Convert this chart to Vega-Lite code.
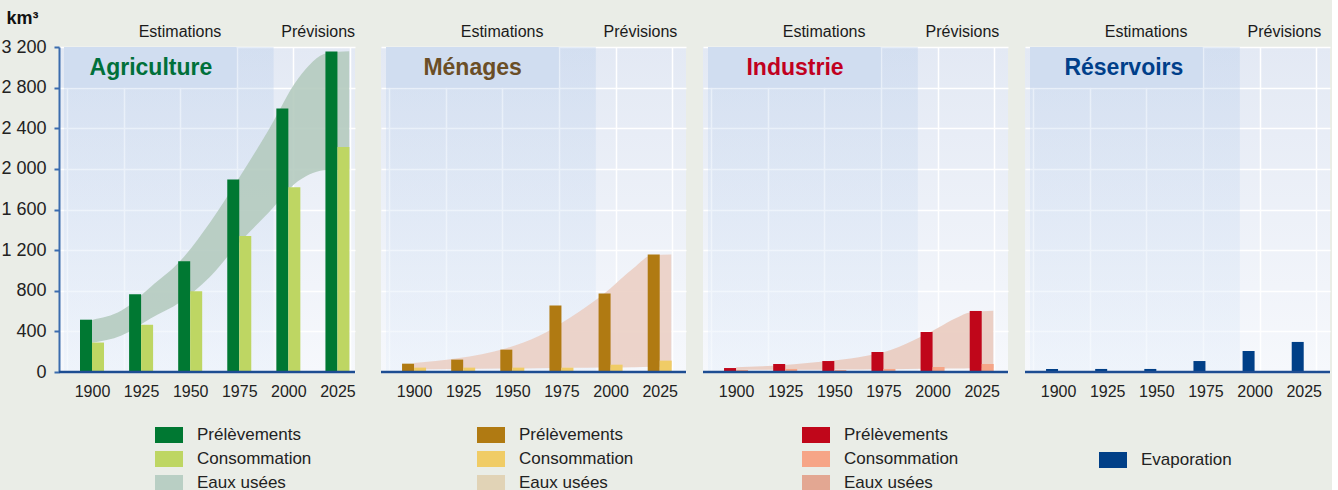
{
"$schema": "https://vega.github.io/schema/vega-lite/v6.json",
"background": "#eaede7",
"padding": {"left": 0, "top": 9, "right": 0, "bottom": 0},
"bounds": "flush",
"spacing": 26,
"resolve": {"scale": {"color": "independent", "x": "independent", "y": "independent"}, "legend": {"color": "independent"}},
"config": {
  "font": "Liberation Sans",
  "axis": {"labelOverlap": false},
  "view": {"stroke": null, "fill": {"gradient": "linear", "x1": 0, "y1": 0, "x2": 0, "y2": 1, "stops": [{"offset": 0, "color": "#e3e9f4"}, {"offset": 1, "color": "#f6f8fc"}]}},
  "legend": {"labelFont": "Liberation Sans", "labelFontSize": 17, "labelColor": "#222222", "symbolStrokeWidth": 0, "symbolOpacity": 1, "padding": 0}
},
"hconcat": [
{
 "width": 296, "height": 325,
 "resolve": {"axis": {"x": "independent", "y": "independent"}},
 "layer": [
  {"data": {"values": [{}]}, "mark": {"type": "rect", "fill": {"gradient": "linear", "x1": 0, "y1": 0, "x2": 0, "y2": 1, "stops": [{"offset": 0, "color": "#b2c9e9"}, {"offset": 1, "color": "#dfebf9"}]}, "fillOpacity": 0.32},
   "encoding": {
    "x": {"datum": 1885.73, "type": "quantitative", "scale": {"domain": [1885.73, 2031.4], "nice": false, "zero": false},
      "axis": {"values": [1887.45, 1900, 1916.24, 1925, 1944.8, 1950, 1973.6, 1975, 2000, 2002.6, 2025, 2031.4], "labelExpr": "datum.value % 25 == 0 ? format(datum.value, 'd') : ''", "grid": true, "gridColor": "#ffffff", "gridWidth": 1.5, "gridOpacity": {"condition": {"test": "datum.value % 25 != 0", "value": 1}, "value": 0}, "ticks": false, "tickSize": 0, "domain": false, "labelFontSize": 16, "labelColor": "#222222", "labelPadding": 11, "labelFont": "Liberation Sans", "labelOverlap": false, "labelBound": false, "labelFlush": false, "title": null}},
    "x2": {"datum": 1992.5},
    "y": {"datum": 3200, "type": "quantitative", "scale": {"domain": [0, 3200], "nice": false},
      "axis": {"values": [0, 400, 800, 1200, 1600, 2000, 2400, 2800, 3200], "labelExpr": "replace(format(datum.value, ','), ',', ' ')", "grid": true, "gridColor": "#ffffff", "gridWidth": 1.5, "domainColor": "#3b6cae", "domainWidth": 2, "tickColor": "#3b6cae", "tickSize": 5, "tickWidth": 2, "labelFontSize": 18, "labelColor": "#222222", "labelPadding": 8, "labelFont": "Liberation Sans", "title": "km³", "titleAngle": 0, "titleAlign": "left", "titleBaseline": "alphabetic", "titleX": -53, "titleY": -24, "titleFontSize": 18, "titleFontWeight": "bold", "titleColor": "#111111", "titleFont": "Liberation Sans"}},
    "y2": {"datum": 0}}},
  {"data": {"values": [{}]}, "mark": {"type": "rect", "fill": "#d0ddf0"},
   "encoding": {"x": {"datum": 1885.73, "type": "quantitative", "axis": null, "scale": {"domain": [1885.73, 2031.4], "nice": false, "zero": false}}, "x2": {"datum": 1973.6},
    "y": {"datum": 3200, "type": "quantitative", "axis": null, "scale": {"domain": [0, 3200], "nice": false}}, "y2": {"datum": 2800}}},
  {"data": {"values": [
    {"year": 1900, "top": 513, "bottom": 289}, {"year": 1915, "top": 605, "bottom": 360}, {"year": 1930, "top": 840, "bottom": 530},
    {"year": 1945, "top": 1095, "bottom": 690}, {"year": 1960, "top": 1470, "bottom": 935}, {"year": 1975, "top": 1915, "bottom": 1272},
    {"year": 1990, "top": 2385, "bottom": 1570}, {"year": 2005, "top": 2890, "bottom": 1880}, {"year": 2020, "top": 3140, "bottom": 1990},
    {"year": 2031, "top": 3157, "bottom": 1988}]},
   "mark": {"type": "area", "interpolate": "monotone", "fill": "#b3cabd", "fillOpacity": 0.88},
   "encoding": {"x": {"field": "year", "type": "quantitative", "axis": null, "scale": {"domain": [1885.73, 2031.4], "nice": false, "zero": false}},
    "y": {"field": "top", "type": "quantitative", "axis": null, "scale": {"domain": [0, 3200], "nice": false}}, "y2": {"field": "bottom"}}},
  {"data": {"values": [
    {"year": 1900, "prel": 515, "cons": 290}, {"year": 1925, "prel": 765, "cons": 465}, {"year": 1950, "prel": 1090, "cons": 795},
    {"year": 1975, "prel": 1895, "cons": 1340}, {"year": 2000, "prel": 2595, "cons": 1820}, {"year": 2025, "prel": 3155, "cons": 2215}]},
   "layer": [
    {"mark": {"type": "bar", "width": 12, "xOffset": -6},
     "encoding": {"x": {"field": "year", "type": "quantitative", "axis": null, "scale": {"domain": [1885.73, 2031.4], "nice": false, "zero": false}},
      "y": {"field": "prel", "type": "quantitative", "axis": null, "scale": {"domain": [0, 3200], "nice": false}},
      "color": {"datum": "Prélèvements", "scale": {"domain": ["Prélèvements", "Consommation", "Eaux usées"], "range": ["#007832", "#bed663", "#b9cfc4"]},
        "legend": {"orient": "none", "legendX": 96, "legendY": 374, "title": null, "direction": "vertical", "symbolType": "M-1,-0.57L1,-0.57L1,0.57L-1,0.57Z", "symbolSize": 784, "labelOffset": 14, "rowPadding": 2}}}},
    {"mark": {"type": "bar", "width": 12, "xOffset": 6},
     "encoding": {"x": {"field": "year", "type": "quantitative", "axis": null, "scale": {"domain": [1885.73, 2031.4], "nice": false, "zero": false}},
      "y": {"field": "cons", "type": "quantitative", "axis": null, "scale": {"domain": [0, 3200], "nice": false}},
      "color": {"datum": "Consommation"}}}
   ]},
  {"data": {"values": [{}]}, "mark": {"type": "rule", "color": "#1d4d92", "strokeWidth": 2.5},
   "encoding": {"y": {"datum": 0, "type": "quantitative", "axis": null, "scale": {"domain": [0, 3200], "nice": false}}}},
  {"data": {"values": [{}]}, "mark": {"type": "text", "text": "Estimations", "fontSize": 16, "color": "#1a1a1a", "baseline": "alphabetic", "dy": -10},
   "encoding": {"x": {"datum": 1944.8, "type": "quantitative", "axis": null, "scale": {"domain": [1885.73, 2031.4], "nice": false, "zero": false}}, "y": {"datum": 3200, "type": "quantitative", "axis": null, "scale": {"domain": [0, 3200], "nice": false}}}},
  {"data": {"values": [{}]}, "mark": {"type": "text", "text": "Prévisions", "fontSize": 16, "color": "#1a1a1a", "baseline": "alphabetic", "dy": -10},
   "encoding": {"x": {"datum": 2015.2, "type": "quantitative", "axis": null, "scale": {"domain": [1885.73, 2031.4], "nice": false, "zero": false}}, "y": {"datum": 3200, "type": "quantitative", "axis": null, "scale": {"domain": [0, 3200], "nice": false}}}},
  {"data": {"values": [{}]}, "mark": {"type": "text", "text": "Agriculture", "fontSize": 23, "fontWeight": "bold", "color": "#00703a", "baseline": "alphabetic", "dy": 28},
   "encoding": {"x": {"datum": 1930, "type": "quantitative", "axis": null, "scale": {"domain": [1885.73, 2031.4], "nice": false, "zero": false}}, "y": {"datum": 3200, "type": "quantitative", "axis": null, "scale": {"domain": [0, 3200], "nice": false}}}}
 ]
},
{
 "spacing": 17,
 "bounds": "flush",
 "resolve": {"scale": {"color": "independent", "x": "independent", "y": "independent"}, "legend": {"color": "independent"}},
 "hconcat": [
 {
  "width": 305, "height": 325,
  "resolve": {"axis": {"x": "independent", "y": "independent"}},
  "layer": [
   {"data": {"values": [{}]}, "mark": {"type": "rect", "fill": {"gradient": "linear", "x1": 0, "y1": 0, "x2": 0, "y2": 1, "stops": [{"offset": 0, "color": "#b2c9e9"}, {"offset": 1, "color": "#dfebf9"}]}, "fillOpacity": 0.32},
    "encoding": {
     "x": {"datum": 1885.73, "type": "quantitative", "scale": {"domain": [1885.73, 2035.83], "nice": false, "zero": false},
       "axis": {"values": [1887.45, 1900, 1916.24, 1925, 1944.8, 1950, 1973.6, 1975, 2000, 2002.6, 2025, 2031.4], "labelExpr": "datum.value % 25 == 0 ? format(datum.value, 'd') : ''", "grid": true, "gridColor": "#ffffff", "gridWidth": 1.5, "gridOpacity": {"condition": {"test": "datum.value % 25 != 0", "value": 1}, "value": 0}, "ticks": false, "tickSize": 0, "domain": false, "labelFontSize": 16, "labelColor": "#222222", "labelPadding": 11, "labelFont": "Liberation Sans", "labelOverlap": false, "labelBound": false, "labelFlush": false, "title": null}},
     "x2": {"datum": 1992.5},
     "y": {"datum": 3200, "type": "quantitative", "scale": {"domain": [0, 3200], "nice": false},
       "axis": {"values": [0, 400, 800, 1200, 1600, 2000, 2400, 2800, 3200], "grid": true, "gridColor": "#ffffff", "gridWidth": 1.5, "labels": false, "ticks": false, "domain": false, "title": null}},
     "y2": {"datum": 0}}},
   {"data": {"values": [{}]}, "mark": {"type": "rect", "fill": "#d0ddf0"},
    "encoding": {"x": {"datum": 1885.73, "type": "quantitative", "axis": null, "scale": {"domain": [1885.73, 2035.83], "nice": false, "zero": false}}, "x2": {"datum": 1973.6},
     "y": {"datum": 3200, "type": "quantitative", "axis": null, "scale": {"domain": [0, 3200], "nice": false}}, "y2": {"datum": 2800}}},
   {"data": {"values": [
     {"year": 1900, "top": 88, "bottom": 25}, {"year": 1922, "top": 135, "bottom": 30}, {"year": 1947, "top": 234, "bottom": 34},
     {"year": 1963.5, "top": 355, "bottom": 37}, {"year": 1979.7, "top": 540, "bottom": 41}, {"year": 1996, "top": 760, "bottom": 44},
     {"year": 2012.7, "top": 1040, "bottom": 48}, {"year": 2020.6, "top": 1146, "bottom": 51}, {"year": 2030.9, "top": 1156, "bottom": 55}]},
    "mark": {"type": "area", "interpolate": "monotone", "fill": "#eacec3", "fillOpacity": 0.88},
    "encoding": {"x": {"field": "year", "type": "quantitative", "axis": null, "scale": {"domain": [1885.73, 2035.83], "nice": false, "zero": false}},
     "y": {"field": "top", "type": "quantitative", "axis": null, "scale": {"domain": [0, 3200], "nice": false}}, "y2": {"field": "bottom"}}},
   {"data": {"values": [
     {"year": 1900, "prel": 82, "cons": 43}, {"year": 1925, "prel": 122, "cons": 43}, {"year": 1950, "prel": 220, "cons": 43},
     {"year": 1975, "prel": 654, "cons": 43}, {"year": 2000, "prel": 772, "cons": 72}, {"year": 2025, "prel": 1157, "cons": 112}]},
    "layer": [
     {"mark": {"type": "bar", "width": 12, "xOffset": -6},
      "encoding": {"x": {"field": "year", "type": "quantitative", "axis": null, "scale": {"domain": [1885.73, 2035.83], "nice": false, "zero": false}},
       "y": {"field": "prel", "type": "quantitative", "axis": null, "scale": {"domain": [0, 3200], "nice": false}},
       "color": {"datum": "Prélèvements", "scale": {"domain": ["Prélèvements", "Consommation", "Eaux usées"], "range": ["#b07a12", "#f0cc66", "#e1d3b6"]},
         "legend": {"orient": "none", "legendX": 96, "legendY": 374, "title": null, "direction": "vertical", "symbolType": "M-1,-0.57L1,-0.57L1,0.57L-1,0.57Z", "symbolSize": 784, "labelOffset": 14, "rowPadding": 2}}}},
     {"mark": {"type": "bar", "width": 12, "xOffset": 6},
      "encoding": {"x": {"field": "year", "type": "quantitative", "axis": null, "scale": {"domain": [1885.73, 2035.83], "nice": false, "zero": false}},
       "y": {"field": "cons", "type": "quantitative", "axis": null, "scale": {"domain": [0, 3200], "nice": false}},
       "color": {"datum": "Consommation"}}}
    ]},
   {"data": {"values": [{}]}, "mark": {"type": "rule", "color": "#1d4d92", "strokeWidth": 2.5},
    "encoding": {"y": {"datum": 0, "type": "quantitative", "axis": null, "scale": {"domain": [0, 3200], "nice": false}}}},
   {"data": {"values": [{}]}, "mark": {"type": "text", "text": "Estimations", "fontSize": 16, "color": "#1a1a1a", "baseline": "alphabetic", "dy": -10},
    "encoding": {"x": {"datum": 1944.8, "type": "quantitative", "axis": null, "scale": {"domain": [1885.73, 2035.83], "nice": false, "zero": false}}, "y": {"datum": 3200, "type": "quantitative", "axis": null, "scale": {"domain": [0, 3200], "nice": false}}}},
   {"data": {"values": [{}]}, "mark": {"type": "text", "text": "Prévisions", "fontSize": 16, "color": "#1a1a1a", "baseline": "alphabetic", "dy": -10},
    "encoding": {"x": {"datum": 2015.2, "type": "quantitative", "axis": null, "scale": {"domain": [1885.73, 2035.83], "nice": false, "zero": false}}, "y": {"datum": 3200, "type": "quantitative", "axis": null, "scale": {"domain": [0, 3200], "nice": false}}}},
   {"data": {"values": [{}]}, "mark": {"type": "text", "text": "Ménages", "fontSize": 23, "fontWeight": "bold", "color": "#6b4e26", "baseline": "alphabetic", "dy": 28},
    "encoding": {"x": {"datum": 1929.8, "type": "quantitative", "axis": null, "scale": {"domain": [1885.73, 2035.83], "nice": false, "zero": false}}, "y": {"datum": 3200, "type": "quantitative", "axis": null, "scale": {"domain": [0, 3200], "nice": false}}}}
  ]
 },
 {
  "width": 305, "height": 325,
  "resolve": {"axis": {"x": "independent", "y": "independent"}},
  "layer": [
   {"data": {"values": [{}]}, "mark": {"type": "rect", "fill": {"gradient": "linear", "x1": 0, "y1": 0, "x2": 0, "y2": 1, "stops": [{"offset": 0, "color": "#b2c9e9"}, {"offset": 1, "color": "#dfebf9"}]}, "fillOpacity": 0.32},
    "encoding": {
     "x": {"datum": 1885.73, "type": "quantitative", "scale": {"domain": [1885.73, 2035.83], "nice": false, "zero": false},
       "axis": {"values": [1887.45, 1900, 1916.24, 1925, 1944.8, 1950, 1973.6, 1975, 2000, 2002.6, 2025, 2031.4], "labelExpr": "datum.value % 25 == 0 ? format(datum.value, 'd') : ''", "grid": true, "gridColor": "#ffffff", "gridWidth": 1.5, "gridOpacity": {"condition": {"test": "datum.value % 25 != 0", "value": 1}, "value": 0}, "ticks": false, "tickSize": 0, "domain": false, "labelFontSize": 16, "labelColor": "#222222", "labelPadding": 11, "labelFont": "Liberation Sans", "labelOverlap": false, "labelBound": false, "labelFlush": false, "title": null}},
     "x2": {"datum": 1992.5},
     "y": {"datum": 3200, "type": "quantitative", "scale": {"domain": [0, 3200], "nice": false},
       "axis": {"values": [0, 400, 800, 1200, 1600, 2000, 2400, 2800, 3200], "grid": true, "gridColor": "#ffffff", "gridWidth": 1.5, "labels": false, "ticks": false, "domain": false, "title": null}},
     "y2": {"datum": 0}}},
   {"data": {"values": [{}]}, "mark": {"type": "rect", "fill": "#d0ddf0"},
    "encoding": {"x": {"datum": 1885.73, "type": "quantitative", "axis": null, "scale": {"domain": [1885.73, 2035.83], "nice": false, "zero": false}}, "x2": {"datum": 1973.6},
     "y": {"datum": 3200, "type": "quantitative", "axis": null, "scale": {"domain": [0, 3200], "nice": false}}, "y2": {"datum": 2800}}},
   {"data": {"values": [
     {"year": 1900, "top": 46, "bottom": 20}, {"year": 1913.3, "top": 56, "bottom": 21}, {"year": 1929.5, "top": 76, "bottom": 22},
     {"year": 1945.8, "top": 105, "bottom": 23}, {"year": 1962.5, "top": 145, "bottom": 25}, {"year": 1978.7, "top": 217, "bottom": 27},
     {"year": 1995, "top": 356, "bottom": 31}, {"year": 2003.3, "top": 441, "bottom": 33}, {"year": 2011.7, "top": 530, "bottom": 35},
     {"year": 2019.6, "top": 589, "bottom": 38}, {"year": 2030.9, "top": 602, "bottom": 40}]},
    "mark": {"type": "area", "interpolate": "monotone", "fill": "#e9cabd", "fillOpacity": 0.88},
    "encoding": {"x": {"field": "year", "type": "quantitative", "axis": null, "scale": {"domain": [1885.73, 2035.83], "nice": false, "zero": false}},
     "y": {"field": "top", "type": "quantitative", "axis": null, "scale": {"domain": [0, 3200], "nice": false}}, "y2": {"field": "bottom"}}},
   {"data": {"values": [
     {"year": 1900, "prel": 39, "cons": 20}, {"year": 1925, "prel": 79, "cons": 30}, {"year": 1950, "prel": 108, "cons": 20},
     {"year": 1975, "prel": 197, "cons": 30}, {"year": 2000, "prel": 394, "cons": 49}, {"year": 2025, "prel": 601, "cons": 79}]},
    "layer": [
     {"mark": {"type": "bar", "width": 12, "xOffset": -6},
      "encoding": {"x": {"field": "year", "type": "quantitative", "axis": null, "scale": {"domain": [1885.73, 2035.83], "nice": false, "zero": false}},
       "y": {"field": "prel", "type": "quantitative", "axis": null, "scale": {"domain": [0, 3200], "nice": false}},
       "color": {"datum": "Prélèvements", "scale": {"domain": ["Prélèvements", "Consommation", "Eaux usées"], "range": ["#c0061a", "#f6a587", "#e3a792"]},
         "legend": {"orient": "none", "legendX": 99, "legendY": 374, "title": null, "direction": "vertical", "symbolType": "M-1,-0.57L1,-0.57L1,0.57L-1,0.57Z", "symbolSize": 784, "labelOffset": 14, "rowPadding": 2}}}},
     {"mark": {"type": "bar", "width": 12, "xOffset": 6},
      "encoding": {"x": {"field": "year", "type": "quantitative", "axis": null, "scale": {"domain": [1885.73, 2035.83], "nice": false, "zero": false}},
       "y": {"field": "cons", "type": "quantitative", "axis": null, "scale": {"domain": [0, 3200], "nice": false}},
       "color": {"datum": "Consommation"}}}
    ]},
   {"data": {"values": [{}]}, "mark": {"type": "rule", "color": "#1d4d92", "strokeWidth": 2.5},
    "encoding": {"y": {"datum": 0, "type": "quantitative", "axis": null, "scale": {"domain": [0, 3200], "nice": false}}}},
   {"data": {"values": [{}]}, "mark": {"type": "text", "text": "Estimations", "fontSize": 16, "color": "#1a1a1a", "baseline": "alphabetic", "dy": -10},
    "encoding": {"x": {"datum": 1944.8, "type": "quantitative", "axis": null, "scale": {"domain": [1885.73, 2035.83], "nice": false, "zero": false}}, "y": {"datum": 3200, "type": "quantitative", "axis": null, "scale": {"domain": [0, 3200], "nice": false}}}},
   {"data": {"values": [{}]}, "mark": {"type": "text", "text": "Prévisions", "fontSize": 16, "color": "#1a1a1a", "baseline": "alphabetic", "dy": -10},
    "encoding": {"x": {"datum": 2015.2, "type": "quantitative", "axis": null, "scale": {"domain": [1885.73, 2035.83], "nice": false, "zero": false}}, "y": {"datum": 3200, "type": "quantitative", "axis": null, "scale": {"domain": [0, 3200], "nice": false}}}},
   {"data": {"values": [{}]}, "mark": {"type": "text", "text": "Industrie", "fontSize": 23, "fontWeight": "bold", "color": "#c1001f", "baseline": "alphabetic", "dy": 28},
    "encoding": {"x": {"datum": 1930, "type": "quantitative", "axis": null, "scale": {"domain": [1885.73, 2035.83], "nice": false, "zero": false}}, "y": {"datum": 3200, "type": "quantitative", "axis": null, "scale": {"domain": [0, 3200], "nice": false}}}}
  ]
 },
 {
  "width": 305, "height": 325,
  "resolve": {"axis": {"x": "independent", "y": "independent"}},
  "layer": [
   {"data": {"values": [{}]}, "mark": {"type": "rect", "fill": {"gradient": "linear", "x1": 0, "y1": 0, "x2": 0, "y2": 1, "stops": [{"offset": 0, "color": "#b2c9e9"}, {"offset": 1, "color": "#dfebf9"}]}, "fillOpacity": 0.32},
    "encoding": {
     "x": {"datum": 1885.73, "type": "quantitative", "scale": {"domain": [1885.73, 2035.83], "nice": false, "zero": false},
       "axis": {"values": [1887.45, 1900, 1916.24, 1925, 1944.8, 1950, 1973.6, 1975, 2000, 2002.6, 2025, 2031.4], "labelExpr": "datum.value % 25 == 0 ? format(datum.value, 'd') : ''", "grid": true, "gridColor": "#ffffff", "gridWidth": 1.5, "gridOpacity": {"condition": {"test": "datum.value % 25 != 0", "value": 1}, "value": 0}, "ticks": false, "tickSize": 0, "domain": false, "labelFontSize": 16, "labelColor": "#222222", "labelPadding": 11, "labelFont": "Liberation Sans", "labelOverlap": false, "labelBound": false, "labelFlush": false, "title": null}},
     "x2": {"datum": 1992.5},
     "y": {"datum": 3200, "type": "quantitative", "scale": {"domain": [0, 3200], "nice": false},
       "axis": {"values": [0, 400, 800, 1200, 1600, 2000, 2400, 2800, 3200], "grid": true, "gridColor": "#ffffff", "gridWidth": 1.5, "labels": false, "ticks": false, "domain": false, "title": null}},
     "y2": {"datum": 0}}},
   {"data": {"values": [{}]}, "mark": {"type": "rect", "fill": "#d0ddf0"},
    "encoding": {"x": {"datum": 1885.73, "type": "quantitative", "axis": null, "scale": {"domain": [1885.73, 2035.83], "nice": false, "zero": false}}, "x2": {"datum": 1973.6},
     "y": {"datum": 3200, "type": "quantitative", "axis": null, "scale": {"domain": [0, 3200], "nice": false}}, "y2": {"datum": 2800}}},
   {"data": {"values": [
     {"year": 1900, "evap": 30}, {"year": 1925, "evap": 30}, {"year": 1950, "evap": 30},
     {"year": 1975, "evap": 108}, {"year": 2000, "evap": 207}, {"year": 2025, "evap": 296}]},
    "mark": {"type": "bar", "width": 12, "xOffset": -6},
    "encoding": {"x": {"field": "year", "type": "quantitative", "axis": null, "scale": {"domain": [1885.73, 2035.83], "nice": false, "zero": false}},
     "y": {"field": "evap", "type": "quantitative", "axis": null, "scale": {"domain": [0, 3200], "nice": false}},
     "color": {"datum": "Evaporation", "scale": {"domain": ["Evaporation"], "range": ["#003f87"]},
       "legend": {"orient": "none", "legendX": 74, "legendY": 399, "title": null, "direction": "vertical", "symbolType": "M-1,-0.57L1,-0.57L1,0.57L-1,0.57Z", "symbolSize": 784, "labelOffset": 14, "rowPadding": 2}}}},
   {"data": {"values": [{}]}, "mark": {"type": "rule", "color": "#1d4d92", "strokeWidth": 2.5},
    "encoding": {"y": {"datum": 0, "type": "quantitative", "axis": null, "scale": {"domain": [0, 3200], "nice": false}}}},
   {"data": {"values": [{}]}, "mark": {"type": "text", "text": "Estimations", "fontSize": 16, "color": "#1a1a1a", "baseline": "alphabetic", "dy": -10},
    "encoding": {"x": {"datum": 1944.8, "type": "quantitative", "axis": null, "scale": {"domain": [1885.73, 2035.83], "nice": false, "zero": false}}, "y": {"datum": 3200, "type": "quantitative", "axis": null, "scale": {"domain": [0, 3200], "nice": false}}}},
   {"data": {"values": [{}]}, "mark": {"type": "text", "text": "Prévisions", "fontSize": 16, "color": "#1a1a1a", "baseline": "alphabetic", "dy": -10},
    "encoding": {"x": {"datum": 2015.2, "type": "quantitative", "axis": null, "scale": {"domain": [1885.73, 2035.83], "nice": false, "zero": false}}, "y": {"datum": 3200, "type": "quantitative", "axis": null, "scale": {"domain": [0, 3200], "nice": false}}}},
   {"data": {"values": [{}]}, "mark": {"type": "text", "text": "Réservoirs", "fontSize": 23, "fontWeight": "bold", "color": "#003f8a", "baseline": "alphabetic", "dy": 28},
    "encoding": {"x": {"datum": 1933.5, "type": "quantitative", "axis": null, "scale": {"domain": [1885.73, 2035.83], "nice": false, "zero": false}}, "y": {"datum": 3200, "type": "quantitative", "axis": null, "scale": {"domain": [0, 3200], "nice": false}}}}
  ]
 }
 ]
}
]
}
